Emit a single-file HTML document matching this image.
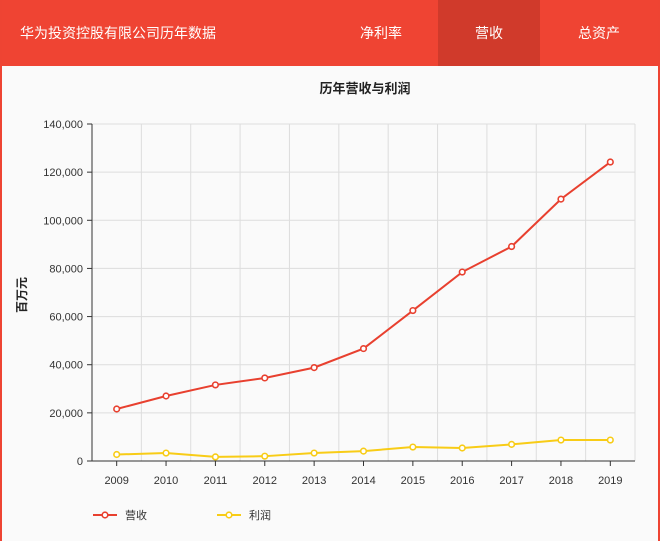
<!DOCTYPE html>
<html><head><meta charset="utf-8">
<style>
body{margin:0;width:660px;height:541px;overflow:hidden;font-family:"Liberation Sans","Noto Sans CJK SC",sans-serif;background:#fafafa}
#wrap{position:absolute;left:0;top:0;width:656px;height:541px;border-left:2px solid #ee4433;border-right:2px solid #ee4433;background:#fafafa}
#hdr{position:absolute;left:0;top:0;width:656px;height:66px;background:#ef4433;color:#fff;font-size:14px}
#hdr div{position:absolute;top:0;height:66px;line-height:66px}
</style></head><body>
<div id="wrap">
<div id="hdr">
<div style="left:18px">华为投资控股有限公司历年数据</div>
<div style="left:358px">净利率</div>
<div style="left:436px;width:102px;background:#d03a2b;text-align:center">营收</div>
<div style="left:576px">总资产</div>
</div>
<svg id="chart" width="656" height="475" style="position:absolute;left:0;top:66px"></svg>
</div>
<script>
const years=["2009","2010","2011","2012","2013","2014","2015","2016","2017","2018","2019"];
const revenue=[21600,27000,31600,34500,38800,46700,62500,78500,89100,108800,124200];
const profit=[2700,3300,1700,2000,3300,4100,5800,5400,6900,8700,8700];
const yTicks=[0,20000,40000,60000,80000,100000,120000,140000];
const ns="http://www.w3.org/2000/svg";
const svg=document.getElementById('chart');
const L=90,R=633,T=58,B=395,YMAX=140000;
const step=(R-L)/years.length;
const x=i=>L+step*(i+0.5);
const y=v=>B-(v/YMAX)*(B-T);
function mk(t,a,p){const e=document.createElementNS(ns,t);for(const k in a)e.setAttribute(k,a[k]);(p||svg).appendChild(e);return e;}
function txt(s,a){const e=mk('text',a);e.textContent=s;return e;}
const title=txt('历年营收与利润',{x:363,y:27,'text-anchor':'middle','font-size':13,'font-weight':'bold',fill:'#222'});


for(let i=0;i<=years.length;i++){
 const g=mk('line',{x1:L+step*i,x2:L+step*i,y1:T,y2:B,stroke:'#ddd'});
 
 
}
yTicks.forEach(v=>{
 const g=mk('line',{x1:L,x2:R,y1:y(v),y2:y(v),stroke:'#ddd'});
 
 
 mk('line',{x1:L-5,x2:L,y1:y(v),y2:y(v),stroke:'#333'});
 const t=txt(v.toLocaleString('en-US'),{x:L-9,y:y(v)+4,'text-anchor':'end','font-size':11,fill:'#333'});
 
 
});
mk('line',{x1:L,x2:L,y1:T,y2:B,stroke:'#333'});
mk('line',{x1:L,x2:R,y1:B,y2:B,stroke:'#333'});
years.forEach((yr,i)=>{
 mk('line',{x1:x(i),x2:x(i),y1:B,y2:B+5,stroke:'#333'});
 const t=txt(yr,{x:x(i),y:B+23,'text-anchor':'middle','font-size':11,fill:'#333'});
 
 
});
const yt=txt('百万元',{x:0,y:0,transform:'translate(24,229) rotate(-90)','text-anchor':'middle','font-size':12,'font-weight':'bold',fill:'#222'});


function series(vals,color,name){
 const p=mk('polyline',{points:vals.map((v,i)=>x(i)+','+y(v)).join(' '),fill:'none',stroke:color,'stroke-width':2});
 
 
 vals.forEach((v,i)=>{
  const c=mk('circle',{cx:x(i),cy:y(v),r:2.8,fill:'#fff',stroke:color,'stroke-width':1.6});
  
  
 });
}
series(revenue,'#e8402f','revenue');
series(profit,'#f8cc16','profit');
function legend(lx,color,label,name){
 const g=mk('g',{});
 
 
 mk('line',{x1:lx,x2:lx+24,y1:449,y2:449,stroke:color,'stroke-width':2},g);
 mk('circle',{cx:lx+12,cy:449,r:2.8,fill:'#fff',stroke:color,'stroke-width':1.6},g);
 const t=mk('text',{x:lx+32,y:453,'font-size':11,fill:'#333'},g);t.textContent=label;
}
legend(91,'#e8402f','营收','legend-revenue');
legend(215,'#f8cc16','利润','legend-profit');
</script>
</body></html>
